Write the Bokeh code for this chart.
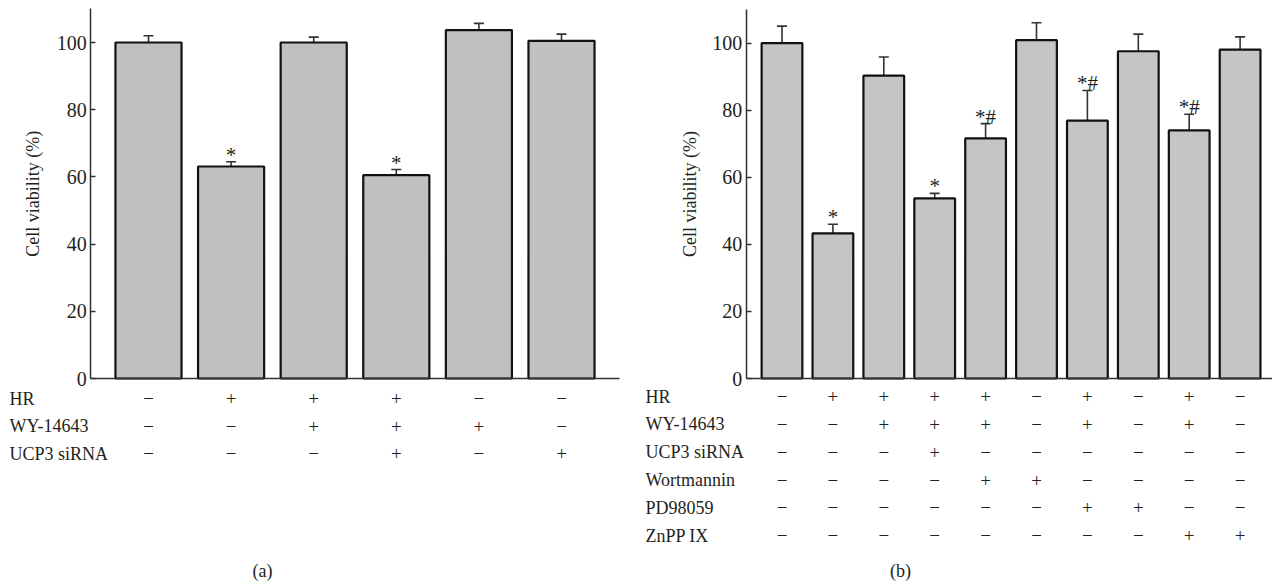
import numpy as np
from bokeh.plotting import figure
from bokeh.layouts import row
from bokeh.models import Range1d, FixedTicker, ColumnDataSource, Whisker, TeeHead
from bokeh.core.properties import value
from bokeh.embed import file_html
from bokeh.resources import INLINE

# ---------------- data ----------------
a_values = [100.0, 63.1, 100.0, 60.5, 103.7, 100.5]
a_errors = [2.0, 1.4, 1.6, 1.7, 2.0, 2.0]
a_marks = ["", "*", "", "*", "", ""]
a_rows = ["HR", "WY-14643", "UCP3 siRNA"]
a_signs = [
    "−+++−−",
    "−−+++−",
    "−−−+−+",
]

b_values = [100.0, 43.3, 90.3, 53.7, 71.6, 100.9, 76.9, 97.6, 74.0, 98.1]
b_errors = [5.1, 2.7, 5.6, 1.5, 4.4, 5.2, 9.0, 5.1, 4.8, 3.8]
b_marks = ["", "*", "", "*", "*#", "", "*#", "", "*#", ""]
b_rows = ["HR", "WY-14643", "UCP3 siRNA", "Wortmannin", "PD98059", "ZnPP IX"]
b_signs = [
    "−++++−+−+−",
    "−−+++−+−+−",
    "−−−+−−−−−−",
    "−−−−++−−−−",
    "−−−−−−++−−",
    "−−−−−−−−++",
]

y_ticks = [0, 20, 40, 60, 80, 100]
y_label = "Cell viability (%)"

FONT = "Liberation Serif"
TXT = "#231f20"
W, H = 636, 586


def panel(values, errors, marks, rows, signs, caption, x_lo, x_hi, y_lo, y_hi,
          row_top, row_step, label_x, ylab_x, cap_x, bar_fill, cap_w, x_end):
    n = len(values)
    idx = list(range(n))
    p = figure(width=W, height=H, output_backend="svg", toolbar_location=None,
               x_range=Range1d(x_lo, x_hi), y_range=Range1d(y_lo, y_hi),
               min_border=0, min_border_left=0, min_border_right=0,
               min_border_top=0, min_border_bottom=0)
    p.outline_line_color = None
    p.grid.visible = False
    p.background_fill_color = "white"

    # axes placed at fixed data locations
    xa = p.xaxis[0]
    xa.fixed_location = 0
    xa.bounds = (-0.7, x_end)
    xa.major_tick_line_color = None
    xa.minor_tick_line_color = None
    xa.major_label_text_color = None
    xa.major_label_text_font_size = "0px"
    xa.axis_line_width = 1.5
    xa.axis_line_color = "#333333"

    ya = p.yaxis[0]
    ya.fixed_location = -0.7
    ya.bounds = (0, 110)
    ya.ticker = FixedTicker(ticks=y_ticks)
    ya.major_tick_in = 5
    ya.major_tick_out = 0
    ya.minor_tick_line_color = None
    ya.axis_line_width = 1.5
    ya.axis_line_color = "#333333"
    ya.major_tick_line_color = "#333333"
    ya.major_tick_line_width = 1.5
    ya.major_label_text_font = FONT
    ya.major_label_text_font_size = "20px"
    ya.major_label_text_color = TXT
    ya.major_label_standoff = 4

    src = ColumnDataSource(dict(x=idx, top=values,
                                hi=[v + e for v, e in zip(values, errors)],
                                mark=marks))
    p.vbar(x="x", top="top", bottom=0, width=0.8, source=src,
           fill_color=bar_fill, line_color="#111111", line_width=2.2)
    wh = Whisker(base="x", lower="top", upper="hi", source=src,
                 line_color="#333333", line_width=1.6,
                 lower_head=None,
                 upper_head=TeeHead(size=cap_w, line_color="#333333", line_width=1.6))
    p.add_layout(wh)
    p.text(x="x", y="hi", text="mark", source=src,
           text_font=value(FONT), text_font_size="21px", text_color=TXT,
           text_align="center", text_baseline="bottom", y_offset=5)

    # sign table
    tx, ty, tt = [], [], []
    lx, ly, lt = [], [], []
    for r, (name, s) in enumerate(zip(rows, signs)):
        yy = row_top - row_step * r
        lx.append(label_x); ly.append(yy); lt.append(name)
        for i, ch in enumerate(s):
            tx.append(i); ty.append(yy); tt.append(ch)
    p.text(x=tx, y=ty, text=tt, text_font=value(FONT), text_font_size="19px",
           text_color=TXT, text_align="center", text_baseline="middle")
    p.text(x=lx, y=ly, text=lt, text_font=value(FONT), text_font_size="18px",
           text_color=TXT, text_align="left", text_baseline="middle")

    # y axis title
    p.text(x=[ylab_x], y=[55], text=[y_label], angle=np.pi / 2,
           text_font=value(FONT), text_font_size="18px", text_color=TXT,
           text_align="center", text_baseline="middle")
    # caption
    p.text(x=[cap_x], y=[y_lo + 4.5], text=[caption], text_font=value(FONT),
           text_font_size="18px", text_color=TXT, text_align="center",
           text_baseline="middle")
    return p


# left panel: 82.6 px per category, first bar centre at 148 px; 3.36 px per %
sa = 82.6
pa = panel(a_values, a_errors, a_marks, a_rows, a_signs, "(a)",
           -148 / sa, (W - 148) / sa, -(H - 378) / 3.36, 378 / 3.36,
           -6.0, 8.2, (9 - 148) / sa, (32 - 148) / sa, (262 - 148) / sa,
           "#c0c0c0", 10, 5.7)

# right panel: 50.9 px per category, first bar centre at 145.5 px
sb = 50.9
pb = panel(b_values, b_errors, b_marks, b_rows, b_signs, "(b)",
           -145.5 / sb, (W - 145.5) / sb, -(H - 378) / 3.353, 378 / 3.353,
           -5.4, 8.3, (9 - 145.5) / sb, (53 - 145.5) / sb, (264 - 145.5) / sb,
           "#c4c5c7", 10, 9.7)

layout = row(pa, pb)
open("out.html", "w").write(file_html(layout, INLINE))
